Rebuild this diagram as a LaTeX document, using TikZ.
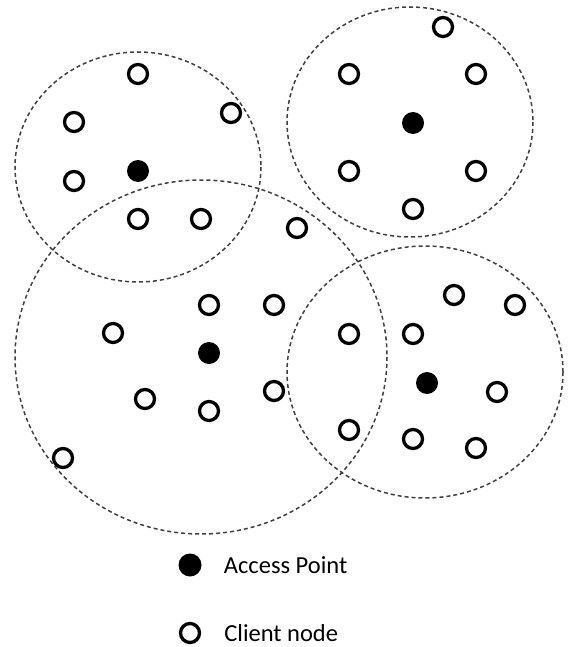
\documentclass[tikz,border=0pt]{standalone}
\usepackage{fontspec}
\setmainfont{Carlito}
\usetikzlibrary{positioning}

\begin{document}
\begin{tikzpicture}[
      x=1pt, y=-1pt,
      ap/.style={circle, fill=black, minimum size=22pt, inner sep=0pt},
      client/.style={circle, draw, line width=3.3pt, minimum size=19pt, inner sep=0pt, fill=white},
      cover/.style={draw=black!75, line width=1.5pt, dash pattern=on 4pt off 3pt},
      lab/.style={font=\fontsize{24.5}{28}\selectfont, anchor=west, inner sep=0pt}
    ]
    \useasboundingbox (0,0) rectangle (567,647);

    % coverage areas
    \draw[cover] (138,167) ellipse (123 and 115);
    \draw[cover] (410,122) ellipse (123 and 115);
    \draw[cover] (201,357) ellipse (186 and 177);
    \draw[cover] (425,372) ellipse (138 and 126);

    % access points
    \node[ap] (ap1) at (138,171) {};
    \node[ap] (ap2) at (413,123) {};
    \node[ap] (ap3) at (209,353) {};
    \node[ap] (ap4) at (427,383) {};

    % clients, top left
    \node[client] (c1) at (138,74) {};
    \node[client] (c2) at (74,122) {};
    \node[client] (c3) at (231,113) {};
    \node[client] (c4) at (74,181) {};
    \node[client] (c5) at (138,219) {};
    \node[client] (c6) at (201,219) {};

    % clients, top right
    \node[client] (c7) at (443,27) {};
    \node[client] (c8) at (349,74) {};
    \node[client] (c9) at (476,74) {};
    \node[client] (c10) at (349,171) {};
    \node[client] (c11) at (476,171) {};
    \node[client] (c12) at (413,209) {};
    \node[client] (c13) at (297,228) {};

    % clients, bottom left
    \node[client] (c14) at (209,305) {};
    \node[client] (c15) at (274,305) {};
    \node[client] (c16) at (113,333) {};
    \node[client] (c17) at (145,399) {};
    \node[client] (c18) at (209,411) {};
    \node[client] (c19) at (274,391) {};
    \node[client] (c20) at (63,458) {};

    % clients, bottom right
    \node[client] (c21) at (454,295) {};
    \node[client] (c22) at (515,305) {};
    \node[client] (c23) at (349,334) {};
    \node[client] (c24) at (413,334) {};
    \node[client] (c25) at (497,392) {};
    \node[client] (c26) at (349,430) {};
    \node[client] (c27) at (413,439) {};
    \node[client] (c28) at (476,448) {};

    % legend
    \node[ap, minimum size=23pt] (keyap) at (190,565) {};
    \node[lab, right=22pt of keyap] (keyaplab) {Access Point};
    \node[client] (keycl) at (190,633) {};
    \node[lab, right=23pt of keycl] (keycllab) {Client node};
  \end{tikzpicture}
\end{document}
